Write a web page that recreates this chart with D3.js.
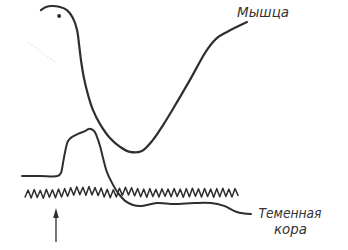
<!DOCTYPE html>
<html>
<head>
<meta charset="utf-8">
<script src="https://cdn.jsdelivr.net/npm/d3@7"></script>
<style>
  body { margin: 0; background: #fff; }
  .label { font-family: "Liberation Sans Narrow", "DejaVu Sans Condensed", sans-serif; font-style: italic; fill: #333; }
</style>
</head>
<body>
<script>
// time (arbitrary units) and amplitude (arbitrary units)

// muscle potential ("Мышца")
var muscleT = [0.91, 1.13, 1.39, 1.74, 2.04, 2.30, 2.48, 2.57, 2.65, 2.78, 2.96, 3.17, 3.48, 3.91, 4.35, 4.78, 5.30, 5.78, 6.22, 6.70, 7.39, 8.13, 8.57, 9.00, 9.87];
var muscleV = [95.8, 97.1, 97.5, 97.1, 95.8, 92.5, 87.5, 81.3, 75.0, 67.5, 60.4, 54.2, 48.3, 42.5, 38.8, 36.7, 37.1, 41.7, 47.9, 55.4, 66.7, 79.2, 84.2, 86.7, 90.8];

// slow potential of parietal cortex ("Теменная кора")
var cortexT = [0.09, 0.87, 1.65, 1.78, 1.87, 1.96, 2.09, 2.26, 2.52, 2.83, 3.00, 3.22, 3.35, 3.48, 3.61, 3.78, 4.00, 4.26, 4.57, 4.91, 5.30, 5.96, 6.70, 7.57, 8.30, 8.87, 9.43, 10.04];
var cortexV = [26.7, 26.7, 26.7, 27.9, 32.1, 36.7, 41.3, 42.9, 44.2, 45.4, 46.3, 45.4, 42.9, 39.2, 34.2, 28.3, 23.8, 19.6, 16.3, 14.6, 14.2, 15.4, 15.0, 15.4, 15.4, 14.2, 11.7, 10.8];

// fast oscillation (EEG) sampled at its peaks and troughs
var eegStart = 0.22, eegEnd = 9.48;
var eegV = [17.9, 20.8, 17.5, 21.0, 17.7, 20.7, 17.4, 21.1, 17.8, 20.9, 17.6, 21.2, 17.9, 21.4, 18.2,
            21.8, 18.7, 22.2, 18.9, 22.0, 18.6, 22.3, 18.8, 21.9, 18.5, 21.7, 17.9, 21.1, 17.6, 20.9,
            17.9, 21.6, 18.6, 22.0, 18.8, 21.8, 18.4, 21.4, 18.0, 21.2, 17.8, 21.4, 18.1, 21.1, 17.9,
            21.3, 18.2, 21.2, 18.0, 21.5, 18.1, 21.2, 17.8, 21.4, 18.0, 21.6, 18.2, 21.3, 17.9, 21.5,
            18.1, 21.2, 17.8, 21.4, 18.0, 21.6, 18.1, 21.2, 17.9, 21.4, 18.6];

// stimulus arrow
var stimT = 1.565, stimFrom = -0.8, stimTo = 13.3;

// marks on the scan
var dotT = 1.70, dotV = 93.3;
var smudgeT = [0.35, 1.52], smudgeV = [82.5, 74.2];

var labels = [
  {text: "Мышца", t: 10.57, v: 92.9, w: 52},
  {text: "Теменная", t: 11.74, v: 9.2, w: 63},
  {text: "кора", t: 11.76, v: 2.7, w: 33}
];

var width = 348, height = 250;

var svg = d3.select("body").append("svg")
    .attr("width", width)
    .attr("height", height);

var x = d3.scaleLinear().domain([0, 10]).range([20, 250]);
var y = d3.scaleLinear().domain([0, 100]).range([240, 0]);

var ink = "#2e2e2e";

var line = d3.line()
    .x(function(d) { return x(d[0]); })
    .y(function(d) { return y(d[1]); })
    .curve(d3.curveCatmullRom.alpha(0.5));

// smudge
svg.append("path")
    .datum(d3.zip(smudgeT, smudgeV))
    .attr("d", d3.line().x(function(d) { return x(d[0]); }).y(function(d) { return y(d[1]); }))
    .attr("fill", "none")
    .attr("stroke", "#c4c4c4")
    .attr("stroke-width", 0.8)
    .attr("stroke-dasharray", "1.5,2.5");

// muscle curve
svg.append("path")
    .datum(d3.zip(muscleT, muscleV))
    .attr("d", line)
    .attr("fill", "none")
    .attr("stroke", ink)
    .attr("stroke-width", 2.2)
    .attr("stroke-linecap", "round");

svg.append("circle")
    .attr("cx", x(dotT))
    .attr("cy", y(dotV))
    .attr("r", 2)
    .attr("fill", ink);

// cortex slow potential
svg.append("path")
    .datum(d3.zip(cortexT, cortexV))
    .attr("d", line)
    .attr("fill", "none")
    .attr("stroke", ink)
    .attr("stroke-width", 2)
    .attr("stroke-linecap", "round");

// EEG zigzag
var xi = d3.scalePoint()
    .domain(d3.range(eegV.length))
    .range([x(eegStart), x(eegEnd)]);

svg.append("path")
    .datum(eegV)
    .attr("d", d3.line()
        .x(function(d, i) { return xi(i); })
        .y(function(d) { return y(d); }))
    .attr("fill", "none")
    .attr("stroke", ink)
    .attr("stroke-width", 1.5)
    .attr("stroke-linejoin", "round")
    .attr("stroke-linecap", "round");

// arrow
svg.append("line")
    .attr("x1", x(stimT)).attr("x2", x(stimT))
    .attr("y1", y(stimFrom)).attr("y2", y(stimTo) + 4)
    .attr("stroke", ink)
    .attr("stroke-width", 1.3);

svg.append("path")
    .attr("d", "M" + x(stimT) + "," + y(stimTo) +
               "L" + (x(stimT) - 2.8) + "," + (y(stimTo) + 10) +
               "L" + (x(stimT) + 2.8) + "," + (y(stimTo) + 10) + "Z")
    .attr("fill", ink);

// labels
svg.selectAll(".label")
    .data(labels)
    .enter()
    .append("text")
    .attr("class", "label")
    .attr("x", function(d) { return x(d.t) - d.w / 2; })
    .attr("y", function(d) { return y(d.v); })
    .attr("font-size", 14.5)
    .attr("textLength", function(d) { return d.w; })
    .attr("lengthAdjust", "spacingAndGlyphs")
    .text(function(d) { return d.text; });
</script>
</body>
</html>
